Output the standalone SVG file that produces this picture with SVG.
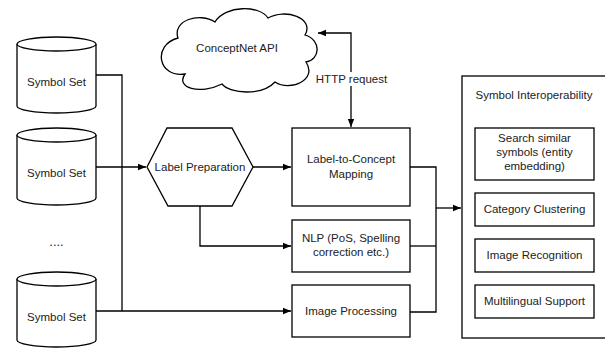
<svg xmlns="http://www.w3.org/2000/svg" width="605" height="348" viewBox="0 0 605 348">
<style>
.s{fill:#fff;stroke:#000;stroke-width:1.3}
.c{fill:none;stroke:#000;stroke-width:1.3}
text{font-family:"Liberation Sans",Arial,sans-serif;font-size:11.5px;fill:#222;text-anchor:middle;dominant-baseline:central}
</style>
<defs>
<marker id="a" viewBox="0 0 10 10" refX="10" refY="5" markerWidth="8" markerHeight="8" markerUnits="userSpaceOnUse" orient="auto">
<path d="M0,1 L10,5 L0,9 Z" fill="#000"/>
</marker>
</defs>
<rect width="605" height="348" fill="#fff"/>
<g id="connectors">
<path class="c" d="M96,75 H122 V311"/>
<path class="c" d="M96,167 H146" marker-end="url(#a)"/>
<path class="c" d="M96,311 H291" marker-end="url(#a)"/>
<path class="c" d="M253,167 H291" marker-end="url(#a)"/>
<path class="c" d="M200,206 V246 H291" marker-end="url(#a)"/>
<path class="c" d="M351,72 V33 H318" marker-end="url(#a)"/>
<path class="c" d="M351,86 V127" marker-end="url(#a)"/>
<path class="c" d="M410,167 H436 V312 H410"/>
<path class="c" d="M410,246 H436"/>
<path class="c" d="M436,208 H461" marker-end="url(#a)"/>
<text x="351.5" y="79">HTTP request</text>
</g>
<g id="cloud">
<path class="s" d="M178,38 C172,20 200,12 215,22 C225,5 260,5 268,18 C285,8 315,18 305,35 C322,40 320,60 306,62 C318,80 290,92 275,82 C262,96 230,94 222,84 C200,95 175,88 185,74 C158,78 152,45 178,38 Z"/>
<text x="237" y="48">ConceptNet API</text>
</g>
<g id="set1">
<path class="s" d="M17,44 V106 A39.5,7 0 0 0 96,106 V44"/>
<ellipse class="s" cx="56.5" cy="44" rx="39.5" ry="7"/>
<text x="56.5" y="82">Symbol Set</text>
</g>
<g id="set2">
<path class="s" d="M17,135 V198 A39.5,7 0 0 0 96,198 V135"/>
<ellipse class="s" cx="56.5" cy="135" rx="39.5" ry="7"/>
<text x="56.5" y="173">Symbol Set</text>
</g>
<text x="56.5" y="241" style="font-size:13px">....</text>
<g id="set3">
<path class="s" d="M17,279 V340 A39.5,7 0 0 0 96,340 V279"/>
<ellipse class="s" cx="56.5" cy="279" rx="39.5" ry="7"/>
<text x="56.5" y="317">Symbol Set</text>
</g>
<g id="labelprep">
<polygon class="s" points="147,167 167,128 232,128 253,167 232,206 168,206"/>
<text x="200" y="167">Label Preparation</text>
</g>
<g id="mapping">
<rect class="s" x="292" y="128" width="118" height="78"/>
<text x="351" y="159">Label-to-Concept</text>
<text x="351" y="174">Mapping</text>
</g>
<g id="nlp">
<rect class="s" x="292" y="220" width="118" height="52"/>
<text x="351" y="238">NLP (PoS, Spelling</text>
<text x="351" y="252">correction etc.)</text>
</g>
<g id="imgproc">
<rect class="s" x="292" y="285" width="118" height="52"/>
<text x="351" y="311">Image Processing</text>
</g>
<g id="interop">
<rect class="s" x="462" y="76" width="170" height="262"/>
<text x="534" y="95">Symbol Interoperability</text>
</g>
<g id="search">
<rect class="s" x="475" y="128" width="119" height="52"/>
<text x="534.5" y="138">Search similar</text>
<text x="534.5" y="152">symbols (entity</text>
<text x="534.5" y="166">embedding)</text>
</g>
<g id="cluster">
<rect class="s" x="475" y="193" width="119" height="33"/>
<text x="534.5" y="209">Category Clustering</text>
</g>
<g id="imgrec">
<rect class="s" x="475" y="239" width="119" height="33"/>
<text x="534.5" y="255">Image Recognition</text>
</g>
<g id="multi">
<rect class="s" x="475" y="285" width="119" height="33"/>
<text x="534.5" y="301">Multilingual Support</text>
</g>
</svg>
